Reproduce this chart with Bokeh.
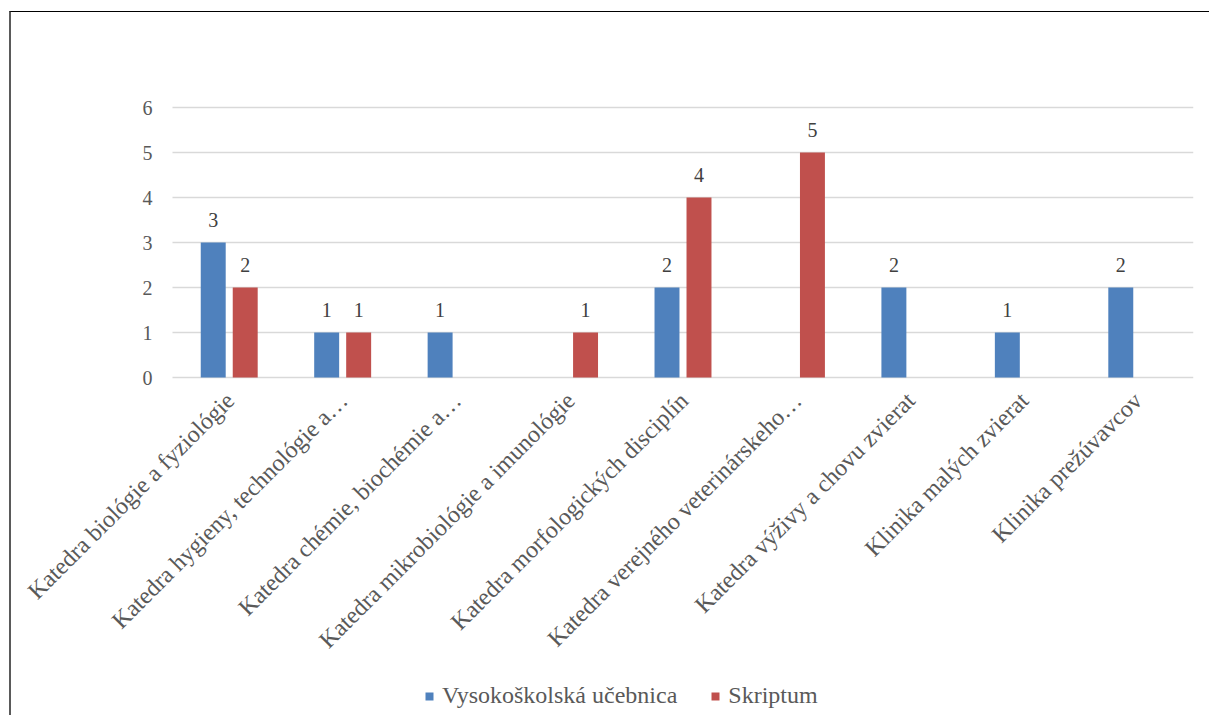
import math
from bokeh.plotting import figure
from bokeh.models import ColumnDataSource, FixedTicker, Legend, LegendItem, Range1d
from bokeh.transform import dodge
from bokeh.core.properties import value
from bokeh.embed import file_html
from bokeh.resources import INLINE

categories = [
    "Katedra biológie a fyziológie",
    "Katedra hygieny, technológie a…",
    "Katedra chémie, biochémie a…",
    "Katedra mikrobiológie a imunológie",
    "Katedra morfologických disciplín",
    "Katedra verejného veterinárskeho…",
    "Katedra výživy a chovu zvierat",
    "Klinika malých zvierat",
    "Klinika prežúvavcov",
]
ucebnica = [3, 1, 1, None, 2, None, 2, 1, 2]
skriptum = [2, 1, None, 1, 4, 5, None, None, None]
series_names = ["Vysokoškolská učebnica", "Skriptum"]
y_ticks = [0, 1, 2, 3, 4, 5, 6]

FONT = "Liberation Serif"
GRAY = "#595959"
BLUE = "#4f81bd"
RED = "#c0504d"

# layout (pixels)
W, H = 1200, 704
TOP = 85
TOP_PAD = 10                 # empty room inside the frame above the top gridline
RIGHT = 18
LEFT_GUTTER = 161            # room inside the frame for the y labels / long x labels
ZERO_FROM_BOTTOM = 339       # pixels from canvas bottom to the y=0 line
n = len(categories)
PX_PER_CAT = (W - RIGHT - LEFT_GUTTER) / n
X_LOW = -LEFT_GUTTER / PX_PER_CAT
PX_PER_UNIT = (H - TOP - TOP_PAD - ZERO_FROM_BOTTOM) / (max(y_ticks) - min(y_ticks))
Y_LOW = -ZERO_FROM_BOTTOM / PX_PER_UNIT
Y_HIGH = max(y_ticks) + TOP_PAD / PX_PER_UNIT

def num(v):
    return float("nan") if v is None else v

xc = [i + 0.5 for i in range(n)]
src = ColumnDataSource(dict(x=xc, cat=categories,
                            u=[num(v) for v in ucebnica],
                            s=[num(v) for v in skriptum],
                            zero=[0] * n))

lab_u = ColumnDataSource(dict(x=[x for x, v in zip(xc, ucebnica) if v],
                              y=[v for v in ucebnica if v],
                              t=[str(v) for v in ucebnica if v]))
lab_s = ColumnDataSource(dict(x=[x for x, v in zip(xc, skriptum) if v],
                              y=[v for v in skriptum if v],
                              t=[str(v) for v in skriptum if v]))

p = figure(x_range=Range1d(X_LOW, n), y_range=Range1d(Y_LOW, Y_HIGH),
           width=W, height=H, output_backend="svg", toolbar_location=None,
           min_border_left=0, min_border_right=RIGHT, min_border_top=TOP,
           min_border_bottom=0)
p.styles = {"border-top": "1px solid #000000", "border-left": "2px solid #5a5a5a",
            "margin-left": "9px", "margin-top": "11px"}
p.outline_line_color = None
p.xaxis.visible = False

off = 0.141
bw = 0.22
r1 = p.vbar(x=dodge("x", -off), top="u", width=bw, source=src,
            fill_color=BLUE, line_color=None)
r2 = p.vbar(x=dodge("x", off), top="s", width=bw, source=src,
            fill_color=RED, line_color=None)

for s, o in ((lab_u, -off), (lab_s, off)):
    p.text(x=dodge("x", o), y="y", text="t", source=s,
           text_font=value(FONT), text_font_size="20px", text_color="#404040",
           text_align="center", text_baseline="alphabetic", y_offset=-23)

# category (tick) labels, rotated 45 degrees under the zero line
p.text(x="x", y="zero", text="cat", source=src, angle=math.pi / 4,
       text_font=value(FONT), text_font_size="24px", text_color=GRAY,
       text_align="right", text_baseline="middle", x_offset=1, y_offset=19)

p.yaxis.fixed_location = 0
p.yaxis.ticker = FixedTicker(ticks=y_ticks)
p.yaxis.axis_line_color = None
p.yaxis.major_tick_line_color = None
p.yaxis.minor_tick_line_color = None
p.yaxis.major_tick_out = 0
p.yaxis.major_label_standoff = 20
p.yaxis.major_label_text_font = FONT
p.yaxis.major_label_text_font_size = "20px"
p.yaxis.major_label_text_color = GRAY

p.xgrid.grid_line_color = None
try:
    p.ygrid.cross_bounds = (0, n)
    p.ygrid.grid_line_color = "#d9d9d9"
    p.ygrid.grid_line_width = 1.5
except AttributeError:
    p.ygrid.grid_line_color = None
    p.segment(x0=[0] * len(y_ticks), x1=[n] * len(y_ticks), y0=y_ticks, y1=y_ticks,
              line_color="#d9d9d9", line_width=1.5)

legend = Legend(items=[LegendItem(label=series_names[0], renderers=[r1]),
                       LegendItem(label=series_names[1], renderers=[r2])],
                orientation="horizontal", location=(413, 7),
                glyph_width=10, glyph_height=10, label_height=24,
                label_standoff=8, spacing=33, padding=0, margin=0,
                label_text_font=FONT, label_text_font_size="24px",
                label_text_color=GRAY, border_line_color=None,
                background_fill_alpha=0)
p.add_layout(legend, "center")

open("out.html", "w").write(file_html(p, INLINE))
